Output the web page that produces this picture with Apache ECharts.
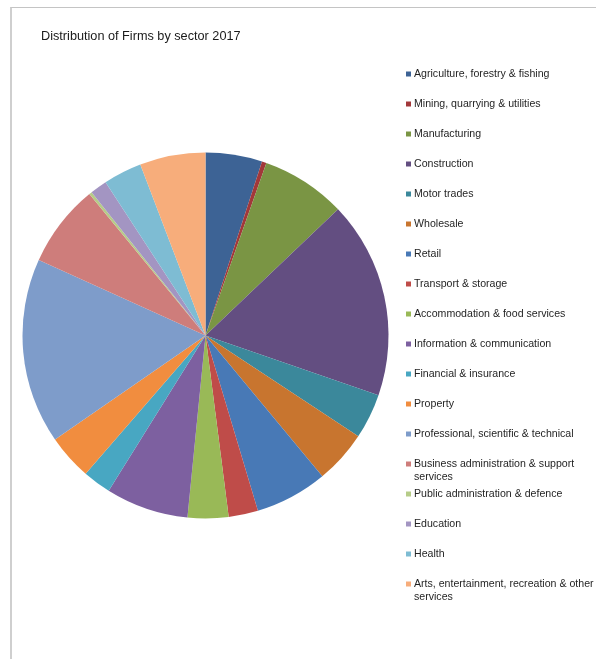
<!DOCTYPE html>
<html>
<head>
<meta charset="utf-8">
<script src="https://cdn.jsdelivr.net/npm/echarts@6/dist/echarts.min.js"></script>
<style>
  html, body { margin: 0; padding: 0; background: #fff; }
  #frame { position: absolute; left: 10px; top: 7px; width: 586px; height: 652px;
           border-top: 1px solid #c4c4c4; border-left: 2px solid #cfcfcf; box-sizing: border-box; }
  #chart { position: absolute; left: 0; top: 0; width: 596px; height: 659px; }
</style>
</head>
<body>
<div id="frame"></div>
<div id="chart"></div>
<script>
// Sectors, their share of firms (%) and slice colours
const sectors = [
  'Agriculture, forestry & fishing',
  'Mining, quarrying & utilities',
  'Manufacturing',
  'Construction',
  'Motor trades',
  'Wholesale',
  'Retail',
  'Transport & storage',
  'Accommodation & food services',
  'Information & communication',
  'Financial & insurance',
  'Property',
  'Professional, scientific & technical',
  'Business administration & support services',
  'Public administration & defence',
  'Education',
  'Health',
  'Arts, entertainment, recreation & other services'
];
const shares = [5.0, 0.4, 7.5, 17.4, 4.0, 4.7, 6.4, 2.6, 3.6, 7.3, 2.5, 4.0, 16.4, 7.3, 0.25, 1.5, 3.4, 5.8];
const colors = [
  '#3d6395', '#a2383a', '#7a9544', '#634e81', '#3b889b', '#c8752f',
  '#4879b6', '#bf4c49', '#99b957', '#7d60a0', '#48a7c2', '#f18d3f',
  '#7e9cca', '#ce7d7b', '#b6cc88', '#a395c2', '#7ebcd3', '#f7ad7b'
];
// Long legend names wrap onto a second line; the leading blank line keeps
// the first text line level with the marker (the text block is centred on it)
const wrapped = {
  'Business administration & support services': '\nBusiness administration & support\nservices',
  'Arts, entertainment, recreation & other services': '\nArts, entertainment, recreation & other\nservices'
};

// One legend entry per row, 30px apart
const rowY0 = 74, rowStep = 30, lineH = 13;
const legends = sectors.map((name, i) => {
  const twoLines = !!wrapped[name];
  return {
    orient: 'vertical',
    left: 406,
    top: rowY0 + rowStep * i - (twoLines ? lineH * 1.5 : lineH / 2),
    padding: 0,
    itemWidth: 5, itemHeight: 5,
    icon: 'rect',
    data: [name],
    selectedMode: false,
    formatter: n => wrapped[n] || n,
    textStyle: {
      fontFamily: 'Liberation Sans, Arial, sans-serif',
      fontSize: 10.6, lineHeight: lineH,
      color: '#1f1f1f',
      padding: [0, 0, 0, -2]
    }
  };
});

const chart = echarts.init(document.getElementById('chart'));
chart.setOption({
  animation: false,
  color: colors,
  title: {
    text: 'Distribution of Firms by sector 2017',
    left: 36, top: 25,
    textStyle: { fontFamily: 'Liberation Sans, Arial, sans-serif', fontSize: 12.7, fontWeight: 'normal', color: '#1a1a1a' }
  },
  legend: legends,
  series: [{
    type: 'pie',
    center: [205.5, 335.5],
    radius: 183,
    startAngle: 90,
    clockwise: true,
    label: { show: false },
    labelLine: { show: false },
    emphasis: { disabled: true },
    itemStyle: { borderWidth: 0 },
    data: sectors.map((s, i) => ({ name: s, value: shares[i] }))
  }]
});
</script>
</body>
</html>
